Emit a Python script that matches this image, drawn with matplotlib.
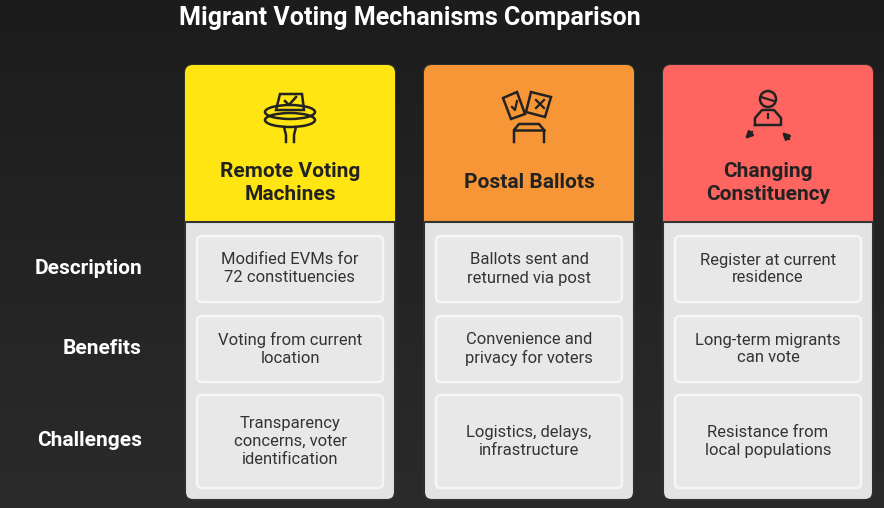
import matplotlib.pyplot as plt
from matplotlib.patches import FancyBboxPatch, Rectangle, Ellipse, Circle, Polygon
import numpy as np

title = "Migrant Voting Mechanisms Comparison"
mechanisms = ["Remote Voting\nMachines", "Postal Ballots", "Changing\nConstituency"]
header_colors = ["#ffe612", "#f79637", "#fe6561"]
row_labels = ["Description", "Benefits", "Challenges"]
cells = [
    ["Modified EVMs for\n72 constituencies", "Voting from current\nlocation", "Transparency\nconcerns, voter\nidentification"],
    ["Ballots sent and\nreturned via post", "Convenience and\nprivacy for voters", "Logistics, delays,\ninfrastructure"],
    ["Register at current\nresidence", "Long-term migrants\ncan vote", "Resistance from\nlocal populations"],
]

W, H = 884, 508
fig = plt.figure(figsize=(W / 100, H / 100), dpi=100)
ax = fig.add_axes([0, 0, 1, 1])
ax.set_xlim(0, W)
ax.set_ylim(H, 0)
ax.axis("off")

# dark gradient background
grad = np.linspace(0, 1, 256).reshape(-1, 1)
ax.imshow(grad, cmap=plt.matplotlib.colors.LinearSegmentedColormap.from_list("bg", ["#1c1c1c", "#2b2b2b"]),
          extent=[0, W, H, 0], aspect="auto", zorder=0)

ax.text(410, 18, title, color="white", fontsize=18, fontweight="bold", family="Roboto",
        ha="center", va="center")

ink = "#222222"
col_x = [185, 424, 663]
col_w = 210
rows_y = [(236, 302), (316, 382), (395, 488)]
label_y = [269, 349, 441]

def icon(i, cx):
    kw = dict(fill=False, ec=ink, lw=1.8, zorder=5)
    if i == 0:
        ax.add_patch(Ellipse((cx, 112), 50, 14, **kw))
        ax.add_patch(Ellipse((cx, 120), 50, 14, **kw))
        ax.add_patch(Polygon([(cx - 14, 110), (cx - 10, 94), (cx + 12, 94), (cx + 14, 110)], **kw))
        ax.plot([cx - 5, cx - 1, cx + 6], [101, 105, 97], color=ink, lw=1.8, zorder=6)
        ax.plot([cx - 6, cx - 4, cx - 4], [127, 135, 142], color=ink, lw=1.8, zorder=6)
        ax.plot([cx + 6, cx + 4, cx + 4], [127, 135, 142], color=ink, lw=1.8, zorder=6)
    elif i == 1:
        ax.add_patch(Polygon([(cx - 26, 98), (cx - 12, 92), (cx - 4, 114), (cx - 18, 119)], **kw))
        ax.add_patch(Polygon([(cx + 2, 92), (cx + 22, 97), (cx + 16, 117), (cx - 3, 112)], **kw))
        ax.plot([cx - 17, cx - 14, cx - 12], [107, 110, 101], color=ink, lw=1.6)
        ax.plot([cx + 7, cx + 15], [100, 108], color=ink, lw=1.6)
        ax.plot([cx + 15, cx + 7], [100, 108], color=ink, lw=1.6)
        ax.plot([cx - 15, cx - 15, cx - 10, cx + 10, cx + 15, cx + 15],
                [142, 130, 124, 124, 130, 142], color=ink, lw=1.8)
        ax.plot([cx - 15, cx + 15], [130, 130], color=ink, lw=1.8)
    else:
        ax.add_patch(Circle((cx, 99), 8, **kw))
        ax.plot([cx - 7, cx + 6], [97, 101], color=ink, lw=1.6)
        ax.plot([cx - 13, cx - 13, cx - 6, cx + 6, cx + 13, cx + 13, cx - 13],
                [125, 118, 110, 110, 118, 125, 125], color=ink, lw=1.8)
        ax.plot([cx, cx], [114, 118], color=ink, lw=1.6)
        ax.annotate("", xy=(cx - 25, 141), xytext=(cx - 14, 130),
                    arrowprops=dict(arrowstyle="-|>", color=ink, lw=1.8))
        ax.annotate("", xy=(cx + 12, 130), xytext=(cx + 23, 141),
                    arrowprops=dict(arrowstyle="-|>", color=ink, lw=1.8))

for i, (x0, name, hc) in enumerate(zip(col_x, mechanisms, header_colors)):
    # full card (grey body)
    ax.add_patch(FancyBboxPatch((x0, 65), col_w, 435, boxstyle="round,pad=0,rounding_size=8",
                                fc="#e3e3e3", ec="#2f2f2f", lw=1.5, zorder=1))
    # header coloured part
    ax.add_patch(FancyBboxPatch((x0, 65), col_w, 157, boxstyle="round,pad=0,rounding_size=8",
                                fc=hc, ec="none", zorder=2))
    ax.add_patch(Rectangle((x0, 190), col_w, 32, fc=hc, ec="none", zorder=2))
    ax.plot([x0, x0 + col_w], [222, 222], color="#333333", lw=1.5, zorder=3)
    icon(i, x0 + col_w / 2)
    ax.text(x0 + col_w / 2, 183, name, color=ink, fontsize=15, fontweight="bold", family="Roboto",
            ha="center", va="center", linespacing=1.3, zorder=5)
    for j, (y0, y1) in enumerate(rows_y):
        ax.add_patch(FancyBboxPatch((x0 + 12, y0), col_w - 24, y1 - y0,
                                    boxstyle="round,pad=0,rounding_size=5",
                                    fc="#e8e8e8", ec="#f6f6f6", lw=1.8, zorder=3))
        ax.text(x0 + col_w / 2, (y0 + y1) / 2, cells[i][j], color="#333333", fontsize=12,
                family="Roboto", ha="center", va="center", linespacing=1.25, zorder=5)

for lab, y in zip(row_labels, label_y):
    ax.text(142, y, lab, color="white", fontsize=15, fontweight="bold", family="Roboto",
            ha="right", va="center")

fig.savefig("out.png", dpi=100)
